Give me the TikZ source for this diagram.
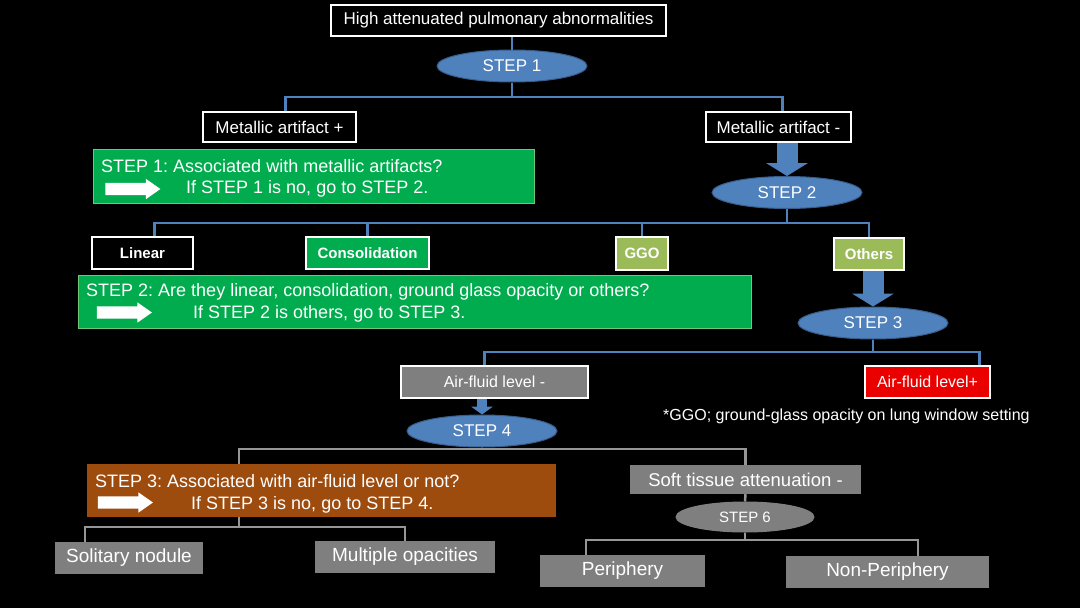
\documentclass[tikz,border=0pt]{standalone}
\usepackage{fontspec}
\setmainfont{Liberation Sans}
\usetikzlibrary{shapes.geometric,shapes.arrows,arrows.meta}

\definecolor{stepblue}{RGB}{79,129,189}
\definecolor{stepedge}{RGB}{56,93,138}
\definecolor{boxgreen}{RGB}{0,172,78}
\definecolor{greenedge}{RGB}{110,200,120}
\definecolor{olivebox}{RGB}{155,187,89}
\definecolor{boxgray}{RGB}{127,127,127}
\definecolor{linegray}{RGB}{150,150,150}
\definecolor{boxbrown}{RGB}{158,75,14}
\definecolor{boxred}{RGB}{235,0,0}

\begin{document}
\frenchspacing
\begin{tikzpicture}[x=1pt,y=-1pt,
	every node/.style={text=white,inner sep=0pt},
	wbox/.style={draw=white,line width=2pt,fill=black,font=\fontsize{17}{20}\selectfont},
	tagbox/.style={draw=white,line width=2pt,font=\bfseries\fontsize{15}{18}\selectfont},
	afbox/.style={draw=white,line width=2pt,font=\fontsize{16}{19}\selectfont},
	graybox/.style={fill=boxgray,font=\fontsize{19}{22}\selectfont},
	stepell/.style={ellipse,fill=stepblue,draw=stepedge,line width=1pt,minimum width=150pt,minimum height=32pt,font=\fontsize{17}{20}\selectfont},
	qbox/.style={draw=greenedge,line width=0.8pt,fill=boxgreen},
	qtext/.style={anchor=west,font=\fontsize{18}{21}\selectfont},
	warrow/.style={single arrow,fill=white,inner xsep=0pt,inner ysep=6pt,minimum height=55pt,single arrow head extend=4pt,single arrow tip angle=70},
	bline/.style={draw=stepblue,line width=2.5pt},
	gline/.style={draw=linegray,line width=2.5pt},
	barrow/.style={draw=stepblue,line width=21pt,-{Triangle[width=42pt,length=13pt,line width=0pt]}},
	sarrow/.style={draw=stepblue,line width=10pt,-{Triangle[width=22pt,length=8pt,line width=0pt]}}]
	%\draw [help lines] (0,0) grid[step=50] (1080,608);
	\fill[black] (0,0) rectangle (1080,608);
	\useasboundingbox (0,0) rectangle (1080,608);

	% step 1
	\node[wbox,minimum width=335pt,minimum height=31pt] (top) at (498.5,20) {High attenuated pulmonary abnormalities};
	\node[stepell] (s1) at (512,66) {STEP 1};
	\node[wbox,minimum width=153pt,minimum height=30pt] (ma1) at (279.5,127) {Metallic artifact +};
	\node[wbox,minimum width=145pt,minimum height=30pt] (ma2) at (778.5,127) {Metallic artifact -};
	\node[qbox,minimum width=441pt,minimum height=54pt] (g1) at (313.5,176) {};
	\node[qtext] (g1a) at (101,166) {STEP 1: Associated with metallic artifacts?};
	\node[warrow] (g1arr) at (128.5,189) {};
	\node[qtext] (g1b) at (186,189) {If STEP 1 is no, go to STEP 2.};

	% step 2
	\node[stepell] (s2) at (787,192.5) {STEP 2};
	\node[tagbox,fill=black,minimum width=101pt,minimum height=32pt] (lin) at (142.5,253) {Linear};
	\node[tagbox,fill=boxgreen,minimum width=123pt,minimum height=32pt] (con) at (367.5,253) {Consolidation};
	\node[tagbox,fill=olivebox,minimum width=52pt,minimum height=33pt] (ggo) at (642,253.5) {GGO};
	\node[tagbox,fill=olivebox,minimum width=70pt,minimum height=32pt] (oth) at (869,254) {Others};
	\node[qbox,minimum width=673pt,minimum height=53pt] (g2) at (414.5,301.5) {};
	\node[qtext] (g2a) at (86,292) {STEP 2: Are they linear, consolidation, ground glass opacity or others?};
	\node[warrow] (g2arr) at (120,312.5) {};
	\node[qtext] (g2b) at (193,314) {If STEP 2 is others, go to STEP 3.};

	% step 3
	\node[stepell] (s3) at (873,323) {STEP 3};
	\node[afbox,fill=boxgray,minimum width=187pt,minimum height=32pt] (af1) at (494.5,382) {Air-fluid level -};
	\node[afbox,fill=boxred,minimum width=125pt,minimum height=32pt] (af2) at (927.5,382) {Air-fluid level+};
	\node[anchor=west,font=\fontsize{16}{19}\selectfont] (note) at (663,416) {*GGO; ground-glass opacity on lung window setting};
	\node[stepell] (s4) at (482,431) {STEP 4};
	\node[fill=boxbrown,minimum width=469pt,minimum height=53pt] (bw) at (321.5,490.5) {};
	\node[qtext] (bwa) at (95,481) {STEP 3: Associated with air-fluid level or not?};
	\node[warrow] (bwarr) at (121,502.5) {};
	\node[qtext] (bwb) at (191,505) {If STEP 3 is no, go to STEP 4.};

	% step 4 and 6
	\node[graybox,minimum width=148pt,minimum height=32pt] (sol) at (129,558) {Solitary nodule};
	\node[graybox,minimum width=180pt,minimum height=32pt] (mul) at (405,557) {Multiple opacities};
	\node[graybox,minimum width=231pt,minimum height=29pt,font=\fontsize{18.5}{22}\selectfont] (soft) at (745.5,479.5) {Soft tissue attenuation -};
	\node[stepell,fill=boxgray,draw=boxgray,minimum width=138pt,minimum height=30pt,font=\fontsize{15}{18}\selectfont] (s6) at (745,517) {STEP 6};
	\node[graybox,minimum width=165pt,minimum height=32pt] (per) at (622.5,571) {Periphery};
	\node[graybox,minimum width=203pt,minimum height=32pt] (nonp) at (887.5,572) {Non-Periphery};

	% connectors
	\coordinate (b1) at (512,97);
	\coordinate (b2) at (787,223);
	\coordinate (b3) at (873,352);
	\coordinate (b4) at (482,449);
	\coordinate (b5) at (239,527);
	\coordinate (b6) at (745,540);
	\draw[bline] (top.south -| s1.north) -- (s1.north);
	\draw[bline] (s1.south) -- (b1);
	\draw[bline] ([xshift=6pt]ma1.north) |- (b1) -| ([xshift=4pt]ma2.north);
	\draw[barrow] (ma2.south -| s2.north) -- (s2.north);
	\draw[bline] (s2.south) -- (b2);
	\draw[bline] ([xshift=12pt]lin.north) |- (b2) -| (oth.north);
	\draw[bline] (con.north) -- (con.north |- b2);
	\draw[bline] (ggo.north) -- (ggo.north |- b2);
	\draw[barrow] (oth.south -| s3.north) -- (s3.north);
	\draw[bline] (s3.south) -- (b3);
	\draw[bline] ([xshift=-10pt]af1.north) |- (b3) -| ([xshift=52pt]af2.north);
	\draw[sarrow] (af1.south -| s4.north) -- (s4.north);
	\draw[gline] (s4.south) -- (b4);
	\draw[gline] ([xshift=-82.5pt]bw.north) |- (b4) -| (soft.north);
	\draw[gline] ([xshift=-82.5pt]bw.south) -- (b5);
	\draw[gline] ([xshift=-44pt]sol.north) |- (b5) -| (mul.north);
	\draw[gline] (soft.south) -- (s6.north);
	\draw[gline] (s6.south) -- (b6);
	\draw[gline] ([xshift=-36.5pt]per.north) |- (b6) -| ([xshift=30.5pt]nonp.north);
\end{tikzpicture}
\end{document}
